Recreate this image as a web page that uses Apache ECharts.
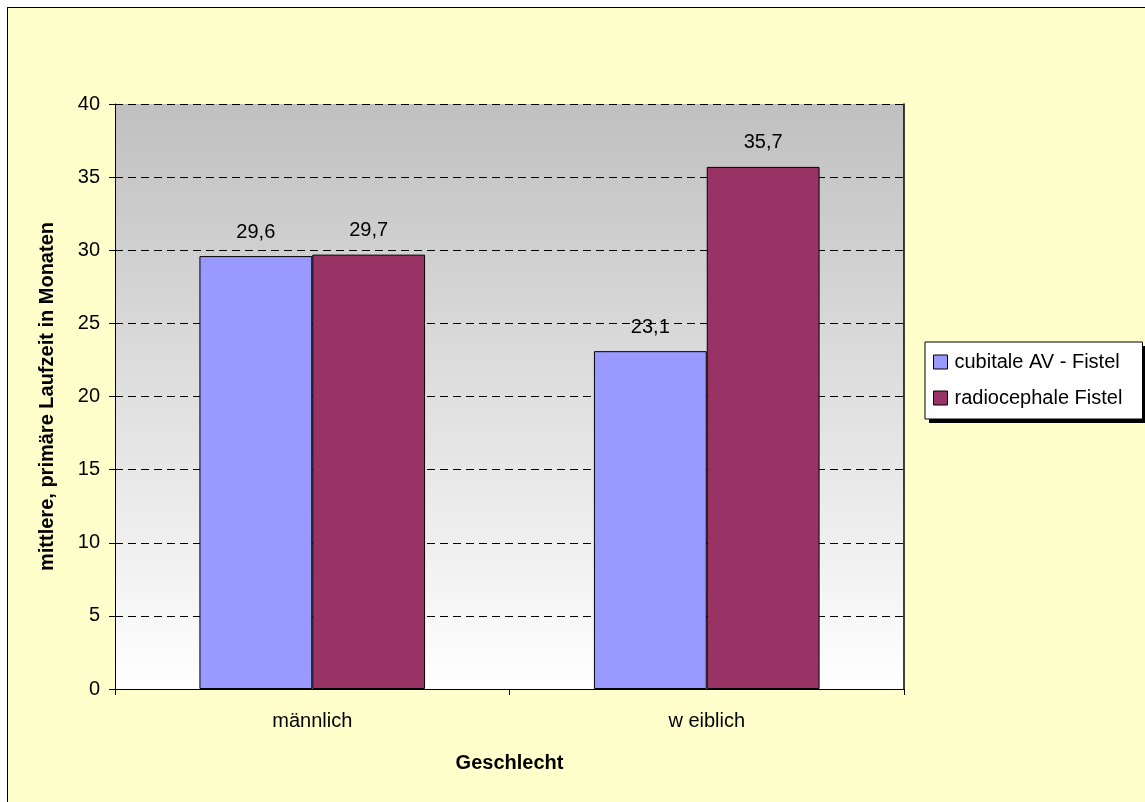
<!DOCTYPE html>
<html>
<head>
<meta charset="utf-8">
<script src="https://cdn.jsdelivr.net/npm/echarts@6/dist/echarts.min.js"></script>
<style>
  html, body { margin: 0; padding: 0; background: #ffffff; }
  #frame {
    position: absolute; left: 7px; top: 7px; width: 1145px; height: 802px;
    background: #FFFFCC; border-left: 1px solid #000; border-top: 1px solid #000;
  }
  #chart { position: absolute; left: 0; top: 0; width: 1145px; height: 802px; }
</style>
</head>
<body>
<div id="frame"></div>
<div id="chart"></div>
<script>
// Mittlere primäre Laufzeit (Monate) nach Geschlecht und Fisteltyp
const categories = ['männlich', 'w eiblich'];
const seriesNames = ['cubitale AV - Fistel', 'radiocephale Fistel'];
const cubitale = [29.6, 23.1];
const radiocephal = [29.7, 35.7];
const seriesColors = ['#9999FF', '#993366'];

const FONT = 'Liberation Sans, Arial, sans-serif';

const chart = echarts.init(document.getElementById('chart'), null, { renderer: 'canvas' });

function fmt(p) {
  return p.value.toFixed(1).replace('.', ',');
}

function barSeries(name, data, color) {
  return {
    name: name,
    type: 'bar',
    data: data,
    barGap: '0%',
    barCategoryGap: '42.8%',
    itemStyle: { color: color, borderColor: '#000', borderWidth: 1 },
    label: {
      show: true, position: 'top', distance: 14,
      formatter: fmt, color: '#000', fontSize: 20, fontFamily: FONT
    }
  };
}

const LEGEND_LEFT = 925, LEGEND_TOP = 342, LEGEND_W = 219, LEGEND_H = 77;

chart.setOption({
  backgroundColor: 'transparent',
  animation: false,
  grid: {
    left: 115, right: 241, top: 104, bottom: 113,
    show: true, borderWidth: 0,
    backgroundColor: new echarts.graphic.LinearGradient(0, 0, 0, 1, [
      { offset: 0, color: '#C0C0C0' },
      { offset: 1, color: '#FFFFFF' }
    ])
  },
  // drop shadow behind the legend box
  graphic: [{
    type: 'rect', z: 1, silent: true,
    shape: { x: LEGEND_LEFT + 4, y: LEGEND_TOP + 4, width: LEGEND_W, height: LEGEND_H },
    style: { fill: '#000' }
  }],
  legend: {
    orient: 'vertical',
    left: LEGEND_LEFT, top: LEGEND_TOP,
    padding: [9, 8, 10, 8],
    itemGap: 14,
    itemWidth: 14, itemHeight: 14,
    icon: 'rect',
    backgroundColor: '#FFFFFF',
    borderColor: '#000', borderWidth: 1,
    itemStyle: { borderColor: '#000', borderWidth: 1 },
    textStyle: { fontSize: 20, fontFamily: FONT, color: '#000', lineHeight: 22, width: 180, padding: [0, 0, 0, 2] },
    data: seriesNames
  },
  xAxis: {
    type: 'category',
    data: categories,
    name: 'Geschlecht',
    nameLocation: 'middle',
    nameGap: 64,
    nameTextStyle: { fontSize: 20, fontWeight: 'bold', fontFamily: FONT, color: '#000' },
    axisLine: { lineStyle: { color: '#000', width: 1 } },
    axisTick: { show: true, length: 6, lineStyle: { color: '#000' } },
    axisLabel: { margin: 22, fontSize: 20, fontFamily: FONT, color: '#000' }
  },
  yAxis: [{
    type: 'value',
    min: 0, max: 40, interval: 5,
    name: 'mittlere, primäre Laufzeit in Monaten',
    nameLocation: 'middle',
    nameGap: 58,
    nameTextStyle: { fontSize: 20, fontWeight: 'bold', fontFamily: FONT, color: '#000' },
    axisLine: { show: true, lineStyle: { color: '#000', width: 1 } },
    axisTick: { show: true, length: 6, lineStyle: { color: '#000' } },
    axisLabel: { margin: 15, fontSize: 20, fontFamily: FONT, color: '#000' },
    splitLine: { show: true, lineStyle: { color: '#000', width: 1, type: [8, 5] } }
  }, {
    type: 'value',
    position: 'right',
    min: 0, max: 40, interval: 5,
    axisLine: { show: true, lineStyle: { color: '#000', width: 1.5 } },
    axisTick: { show: false },
    axisLabel: { show: false },
    splitLine: { show: false }
  }],
  series: [
    barSeries(seriesNames[0], cubitale, seriesColors[0]),
    barSeries(seriesNames[1], radiocephal, seriesColors[1])
  ]
});
</script>
</body>
</html>
